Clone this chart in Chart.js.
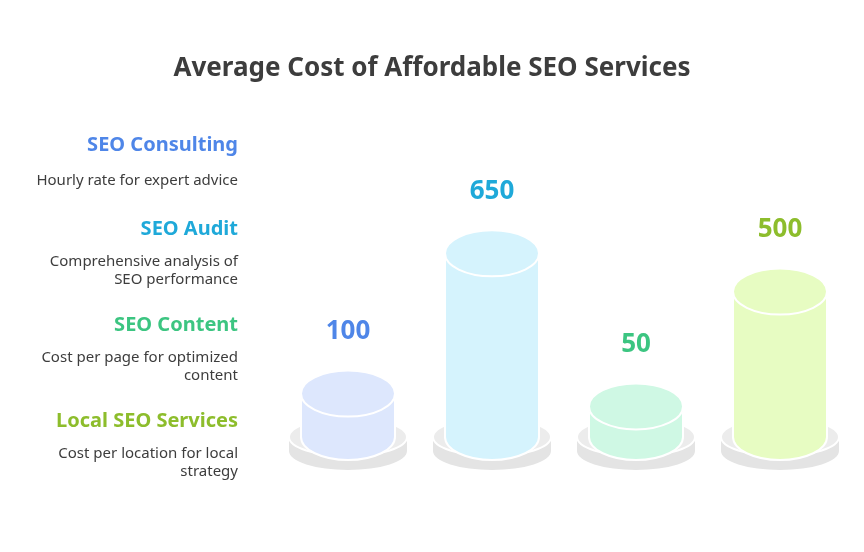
<!DOCTYPE html>
<html>
<head>
<meta charset="utf-8">
<script src="https://cdn.jsdelivr.net/npm/chart.js@4"></script>
<style>
  html, body { margin: 0; padding: 0; background: #fff; }
  #wrap { width: 864px; height: 552px; }
</style>
</head>
<body>
<div id="wrap"><canvas id="myChart" width="864" height="552"></canvas></div>
<script>
'use strict'
const categories = ["Local SEO Services", "SEO Consulting", "SEO Content", "SEO Audit"]
const values = [100, 650, 50, 500]
const fills = ["#dde7fd", "#d5f3fd", "#cff8e4", "#e7fcc2"]
const labelColors = ["#4f86e8", "#1fa9d9", "#3cc581", "#8dbd2c"]

const headings = ["SEO Consulting", "SEO Audit", "SEO Content", "Local SEO Services"]
const headingColors = ["#4f86e8", "#1fa9d9", "#3cc581", "#8dbd2c"]
const descriptions = [
    ["Hourly rate for expert advice"],
    ["Comprehensive analysis of", "SEO performance"],
    ["Cost per page for optimized", "content"],
    ["Cost per location for local", "strategy"]
]

function ellipse(ctx, x, y, rx, ry) {
    ctx.beginPath()
    ctx.ellipse(x, y, rx, ry, 0, 0, Math.PI * 2)
}

const cylinders = {
    id: "cylinders",
    afterDatasetsDraw(chart) {
        const ctx = chart.ctx
        const meta = chart.getDatasetMeta(0)
        const base = chart.scales.y.bottom
        ctx.save()
        meta.data.forEach((bar, i) => {
            const x = bar.x
            const top = bar.y
            // platform
            ctx.fillStyle = "#e4e4e4"
            ellipse(ctx, x, base + 14, 59, 19)
            ctx.fill()
            ctx.fillRect(x - 59, base, 118, 14)
            ctx.fillStyle = "#ececec"
            ctx.strokeStyle = "#ffffff"
            ctx.lineWidth = 2
            ellipse(ctx, x, base, 59, 19)
            ctx.fill()
            ctx.stroke()
            // cylinder body
            const rx = 47, ry = 23
            ctx.fillStyle = fills[i]
            ctx.beginPath()
            ctx.moveTo(x - rx, top)
            ctx.lineTo(x - rx, base)
            ctx.ellipse(x, base, rx, ry, 0, Math.PI, 0, true)
            ctx.lineTo(x + rx, top)
            ctx.closePath()
            ctx.fill()
            ctx.stroke()
            ellipse(ctx, x, top, rx, ry)
            ctx.fill()
            ctx.stroke()
            // value label
            ctx.fillStyle = labelColors[i]
            ctx.font = "bold 26px 'Noto Sans'"
            ctx.textAlign = "center"
            ctx.textBaseline = "middle"
            ctx.fillText(String(values[i]), x, top - 62)
        })
        // title
        ctx.fillStyle = "#3d3d3d"
        ctx.font = "bold 26px 'Noto Sans'"
        ctx.textAlign = "center"
        ctx.fillText("Average Cost of Affordable SEO Services", 432, 69)
        // left legend text
        const headY = [145, 229, 325, 421]
        ctx.textAlign = "right"
        headings.forEach((h, i) => {
            ctx.fillStyle = headingColors[i]
            ctx.font = "bold 20px 'Noto Sans'"
            ctx.fillText(h, 238, headY[i])
            ctx.fillStyle = "#3d3d3d"
            ctx.font = "15px 'Noto Sans'"
            descriptions[i].forEach((line, j) => {
                ctx.fillText(line, 238, headY[i] + (i === 0 ? 36 : 33) + j * 18)
            })
        })
        ctx.restore()
    }
}

const myChart = new Chart(document.getElementById("myChart"), {
    type: "bar",
    data: {
        labels: categories,
        datasets: [{ data: values, backgroundColor: "rgba(0,0,0,0)", borderWidth: 0 }]
    },
    options: {
        responsive: false,
        animation: false,
        layout: { padding: { left: 276, right: 12, top: 215, bottom: 115 } },
        plugins: { legend: { display: false }, tooltip: { enabled: false } },
        scales: {
            x: { display: false },
            y: { display: false, min: -70, max: 800 }
        }
    },
    plugins: [cylinders]
})
</script>
</body>
</html>
